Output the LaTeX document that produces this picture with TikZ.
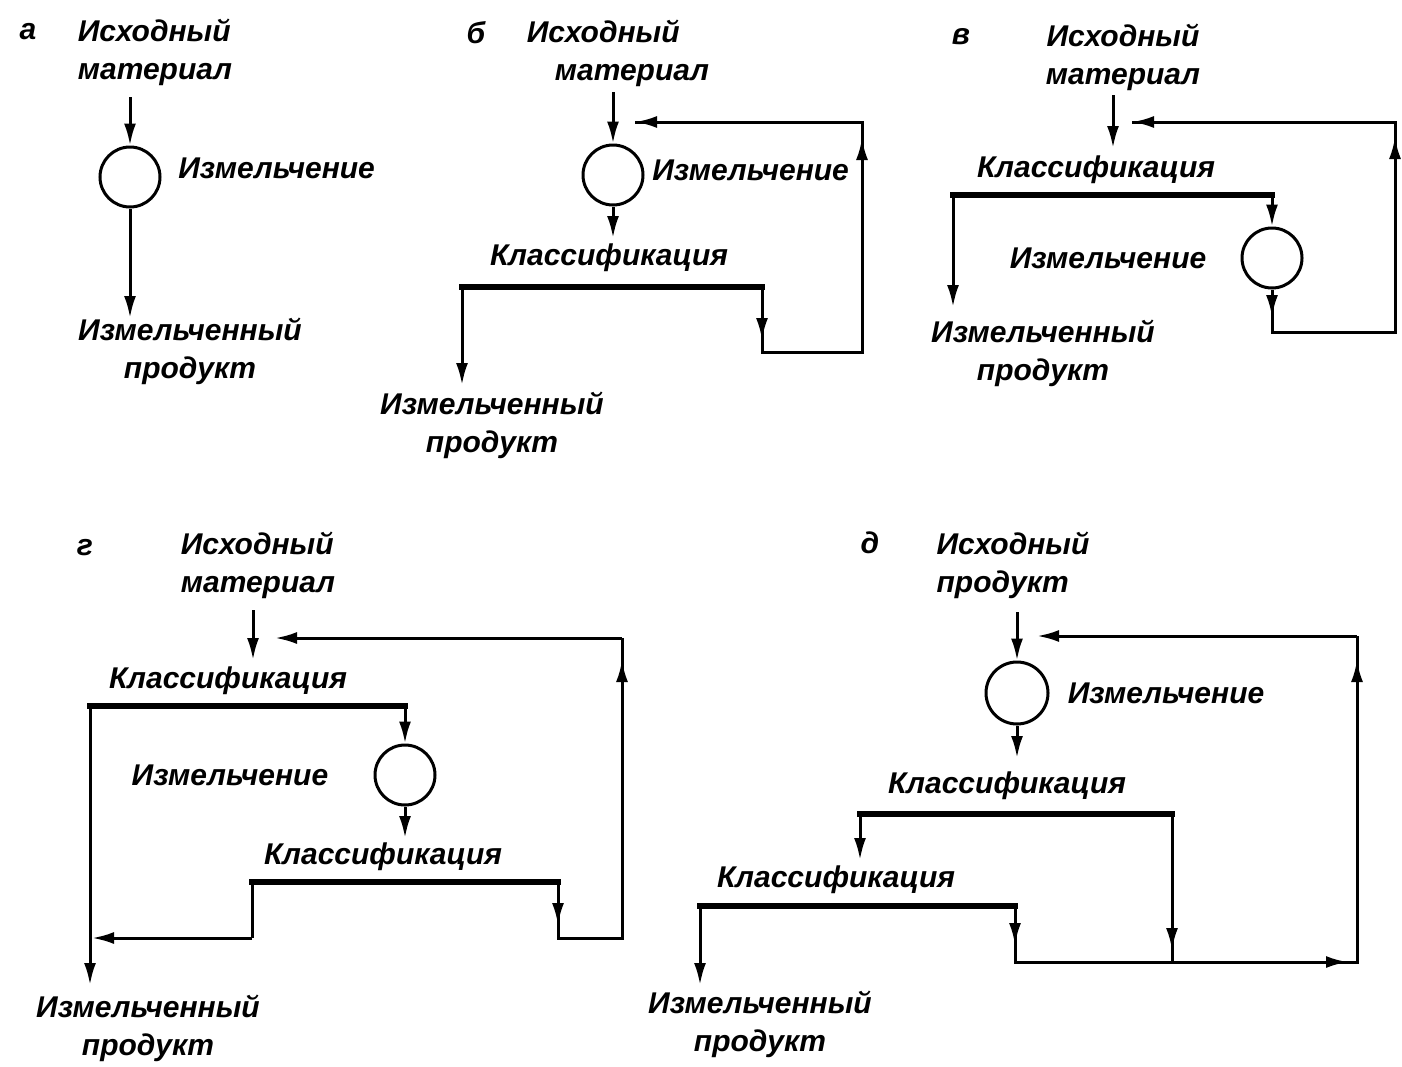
\documentclass[tikz,border=0pt]{standalone}
\usepackage{fontspec}
\setmainfont{Liberation Sans}
\usetikzlibrary{arrows.meta}
\tikzset{
  lbl/.style={font=\bfseries\itshape\fontsize{15}{19}\selectfont, inner sep=0pt},
  mill/.style={circle, draw, line width=1.5pt, minimum size=30pt, inner sep=0pt},
  flow/.style={line width=1.5pt},
  arr/.style={flow, -{Latex[length=11pt,width=6pt]}},
  split/.style={line width=2.8pt, line cap=rect},
}
\begin{document}
\begin{tikzpicture}[x=0.5pt, y=-0.5pt]
\useasboundingbox (0,0) rectangle (1402,1066);

% ---------- a ----------
\node[lbl] (a-lab) at (28,32) {а};
\node[lbl, align=left] (a-in) at (155,52) {Исходный\\материал};
\node[mill] (a-m) at (130,177) {};
\node[lbl, anchor=west] (a-mt) at (178,168) {Измельчение};
\node[lbl, align=center] (a-out) at (190,351) {Измельченный\\продукт};
\coordinate (a-f) at (130,97);
\coordinate (a-o) at (130,318);
\draw[arr] (a-f) -- (a-m.north);
\draw[arr] (a-m.south) -- (a-o);

% ---------- b ----------
\node[lbl] (b-lab) at (476,33) {б};
\node[lbl, align=left] (b-in) at (618,53) {Исходный\\\hspace*{14pt}материал};
\node[mill] (b-m) at (613,175) {};
\node[lbl, anchor=west] (b-mt) at (652,170) {Измельчение};
\node[lbl] (b-ct) at (609,258) {Классификация};
\node[lbl, align=center] (b-out) at (492,425) {Измельченный\\продукт};
\coordinate (b-f) at (613,92);
\coordinate (b-c) at (613,238);
\coordinate (b-sl) at (462,287);
\coordinate (b-sr) at (762,287);
\coordinate (b-o) at (462,385);
\coordinate (b-t1) at (762,340);
\coordinate (b-r1) at (762,352);
\coordinate (b-r2) at (862,352);
\coordinate (b-t2) at (862,138);
\coordinate (b-r3) at (862,122);
\coordinate (b-ri) at (635,122);
\draw[arr] (b-f) -- (b-m.north);
\draw[arr] (b-m.south) -- (b-c);
\draw[split] (b-sl) -- (b-sr);
\draw[arr] (b-sl) -- (b-o);
\draw[flow] (b-sr) -- (b-r1) -- (b-r2) -- (b-r3) -- (b-ri);
\draw[arr] (b-sr) -- (b-t1);
\draw[arr] (b-r2) -- (b-t2);
\draw[arr] (b-r3) -- (b-ri);

% ---------- v ----------
\node[lbl] (v-lab) at (961,37) {в};
\node[lbl, align=center] (v-in) at (1123,57) {Исходный\\материал};
\node[lbl] (v-ct) at (1096,170) {Классификация};
\node[mill] (v-m) at (1272,258) {};
\node[lbl] (v-mt) at (1108,258) {Измельчение};
\node[lbl, align=center] (v-out) at (1043,353) {Измельченный\\продукт};
\coordinate (v-f) at (1113,95);
\coordinate (v-c) at (1113,148);
\coordinate (v-sl) at (953,195);
\coordinate (v-sr) at (1272,195);
\coordinate (v-o) at (953,307);
\coordinate (v-t1) at (1272,317);
\coordinate (v-r1) at (1272,332);
\coordinate (v-r2) at (1395,332);
\coordinate (v-t2) at (1395,137);
\coordinate (v-r3) at (1395,122);
\coordinate (v-ri) at (1132,122);
\draw[arr] (v-f) -- (v-c);
\draw[split] (v-sl) -- (v-sr);
\draw[arr] (v-sl) -- (v-o);
\draw[arr] (v-sr) -- (v-m.north);
\draw[flow] (v-m.south) -- (v-r1) -- (v-r2) -- (v-r3) -- (v-ri);
\draw[arr] (v-m.south) -- (v-t1);
\draw[arr] (v-r2) -- (v-t2);
\draw[arr] (v-r3) -- (v-ri);

% ---------- g ----------
\node[lbl] (g-lab) at (85,548) {г};
\node[lbl, align=left] (g-in) at (258,565) {Исходный\\материал};
\node[lbl] (g-ct1) at (228,681) {Классификация};
\node[mill] (g-m) at (405,775) {};
\node[lbl] (g-mt) at (230,775) {Измельчение};
\node[lbl] (g-ct2) at (383,857) {Классификация};
\node[lbl, align=center] (g-out) at (148,1028) {Измельченный\\продукт};
\coordinate (g-f) at (253,610);
\coordinate (g-c) at (253,660);
\coordinate (g-sl) at (90,706);
\coordinate (g-sr) at (405,706);
\coordinate (g-o) at (90,985);
\coordinate (g-c2) at (405,838);
\coordinate (g-ql) at (252,882);
\coordinate (g-qr) at (558,882);
\coordinate (g-q1) at (252,938);
\coordinate (g-q2) at (92,938);
\coordinate (g-t1) at (558,925);
\coordinate (g-r1) at (558,938);
\coordinate (g-r2) at (622,938);
\coordinate (g-t2) at (622,660);
\coordinate (g-r3) at (622,638);
\coordinate (g-ri) at (275,638);
\draw[arr] (g-f) -- (g-c);
\draw[split] (g-sl) -- (g-sr);
\draw[arr] (g-sl) -- (g-o);
\draw[arr] (g-sr) -- (g-m.north);
\draw[arr] (g-m.south) -- (g-c2);
\draw[split] (g-ql) -- (g-qr);
\draw[flow] (g-ql) -- (g-q1);
\draw[arr] (g-q1) -- (g-q2);
\draw[flow] (g-qr) -- (g-r1) -- (g-r2) -- (g-r3);
\draw[arr] (g-qr) -- (g-t1);
\draw[arr] (g-r2) -- (g-t2);
\draw[arr] (g-r3) -- (g-ri);

% ---------- d ----------
\node[lbl] (d-lab) at (870,543) {д};
\node[lbl, align=left] (d-in) at (1013,565) {Исходный\\продукт};
\node[mill, minimum size=31pt] (d-m) at (1017,693) {};
\node[lbl] (d-mt) at (1166,693) {Измельчение};
\node[lbl] (d-ct1) at (1007,786) {Классификация};
\node[lbl] (d-ct2) at (836,880) {Классификация};
\node[lbl, align=center] (d-out) at (760,1024) {Измельченный\\продукт};
\coordinate (d-f) at (1017,612);
\coordinate (d-c) at (1017,758);
\coordinate (d-sl) at (860,814);
\coordinate (d-sr) at (1172,814);
\coordinate (d-c2) at (860,860);
\coordinate (d-t1) at (1172,950);
\coordinate (d-j1) at (1172,962);
\coordinate (d-ql) at (700,906);
\coordinate (d-qr) at (1015,906);
\coordinate (d-o) at (700,985);
\coordinate (d-t2) at (1015,945);
\coordinate (d-b1) at (1015,962);
\coordinate (d-t3) at (1348,962);
\coordinate (d-r2) at (1357,962);
\coordinate (d-t4) at (1357,660);
\coordinate (d-r3) at (1357,636);
\coordinate (d-ri) at (1037,636);
\draw[arr] (d-f) -- (d-m.north);
\draw[arr] (d-m.south) -- (d-c);
\draw[split] (d-sl) -- (d-sr);
\draw[arr] (d-sl) -- (d-c2);
\draw[flow] (d-sr) -- (d-j1);
\draw[arr] (d-sr) -- (d-t1);
\draw[split] (d-ql) -- (d-qr);
\draw[arr] (d-ql) -- (d-o);
\draw[flow] (d-qr) -- (d-b1) -- (d-r2) -- (d-r3);
\draw[arr] (d-qr) -- (d-t2);
\draw[arr] (d-b1) -- (d-t3);
\draw[arr] (d-r2) -- (d-t4);
\draw[arr] (d-r3) -- (d-ri);
\end{tikzpicture}
\end{document}
